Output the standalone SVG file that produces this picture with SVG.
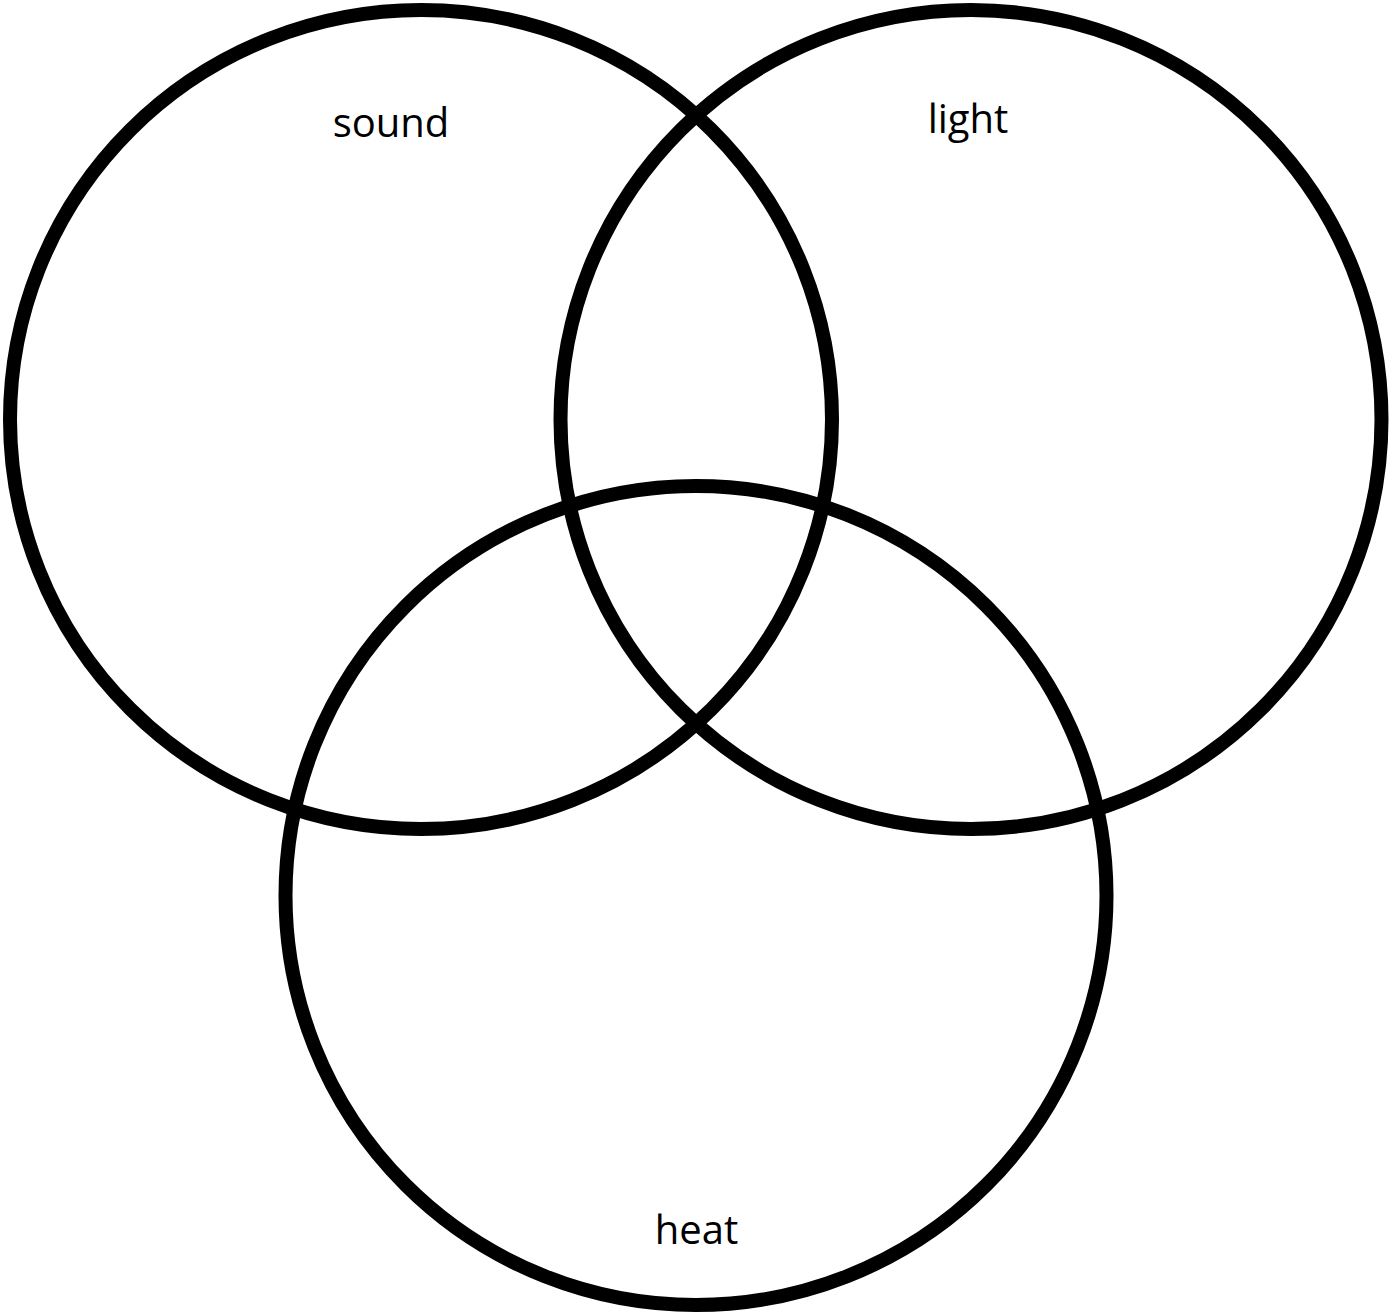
<svg xmlns="http://www.w3.org/2000/svg" width="1389" height="1312" viewBox="0 0 1389 1312">
<style>
.c{fill:none;stroke:#000;stroke-width:14}
.t{font-family:"Open Sans","Liberation Sans",sans-serif;font-size:40px;fill:#000;text-anchor:middle}
</style>
<rect width="1389" height="1312" fill="#fff"/>
<g id="sound"><ellipse class="c" cx="421" cy="419.5" rx="411" ry="409.5"/><text class="t" x="391" y="137">sound</text></g>
<g id="light"><ellipse class="c" cx="971" cy="419.5" rx="410.5" ry="409.5"/><text class="t" x="968" y="133">light</text></g>
<g id="heat"><ellipse class="c" cx="696" cy="895.5" rx="410.5" ry="409.5"/><text class="t" x="696.5" y="1244">heat</text></g>
<g id="connectors"></g>
</svg>
